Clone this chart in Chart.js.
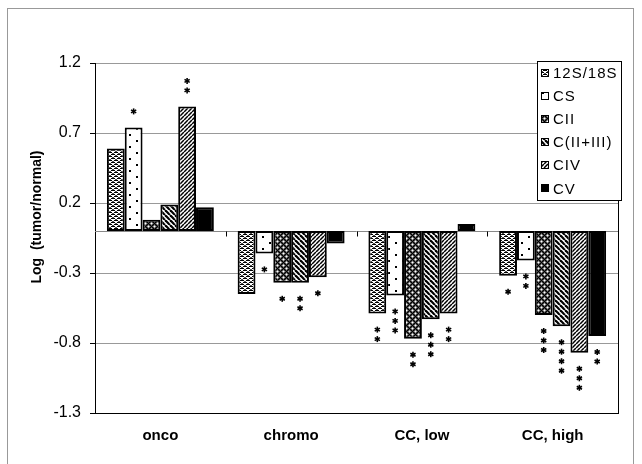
<!DOCTYPE html>
<html>
<head>
<meta charset="utf-8">
<script src="https://cdn.jsdelivr.net/npm/chart.js@4.4.0/dist/chart.umd.min.js"></script>
<style>
  html, body { margin: 0; padding: 0; background: #fff; }
  #wrap { width: 642px; height: 464px; }
</style>
</head>
<body>
<div id="wrap"><canvas id="grafico" width="642" height="464"></canvas></div>
<script>
// dados
const categorias = ['onco', 'chromo', 'CC, low', 'CC, high'];
const nomesSeries = ['12S/18S', 'CS', 'CII', 'C(II+III)', 'CIV', 'CV'];

const v12S18S = [0.59, -0.45, -0.59, -0.32];
const vCS     = [0.74, -0.16, -0.46, -0.21];
const vCII    = [0.08, -0.37, -0.77, -0.60];
const vCII_III = [0.19, -0.37, -0.63, -0.68];
const vCIV    = [0.89, -0.33, -0.59, -0.87];
const vCV     = [0.17, -0.09, 0.05, -0.75];

// número de asteriscos (significância) por barra
const sig12S18S = [0, 0, 2, 1];
const sigCS     = [1, 1, 3, 2];
const sigCII    = [0, 1, 2, 3];
const sigCII_III = [0, 2, 3, 4];
const sigCIV    = [2, 1, 2, 3];
const sigCV     = [0, 0, 0, 2];

const yTicks = [-1.3, -0.8, -0.3, 0.2, 0.7, 1.2];

const FONTE = '"Liberation Sans", Arial, sans-serif';

function tile(w, h, desenha) {
    const c = document.createElement('canvas');
    c.width = w; c.height = h;
    const g = c.getContext('2d');
    g.fillStyle = '#fff';
    g.fillRect(0, 0, w, h);
    desenha(g, w, h);
    return document.getElementById('grafico').getContext('2d').createPattern(c, 'repeat');
}

function padroes() {
    const weave = tile(6, 4, g => {
        g.fillStyle = '#000';
        g.fillRect(0, 0, 4, 1);
        g.fillRect(3, 2, 3, 1);
        g.fillRect(0, 2, 1, 1);
        g.fillStyle = '#555';
        g.fillRect(4, 1, 2, 1);
        g.fillRect(1, 3, 2, 1);
    });
    const pontos = tile(14, 12, g => {
        g.fillStyle = '#000';
        g.fillRect(3, 2, 2, 2);
        g.fillRect(10, 8, 2, 2);
    });
    const escuro = tile(6, 6, g => {
        g.fillStyle = '#000';
        g.fillRect(0, 0, 6, 6);
        g.fillStyle = '#444';
        for (let y = 0; y < 6; y++)
            for (let x = 0; x < 6; x++)
                if ((x + y) % 2 === 0) g.fillRect(x, y, 1, 1);
        g.fillStyle = '#aaa';
        [[1, 1], [4, 4]].forEach(p => {
            g.fillRect(p[0] - 1, p[1], 3, 1);
            g.fillRect(p[0], p[1] - 1, 1, 3);
        });
        g.fillStyle = '#fff';
        g.fillRect(1, 1, 1, 1);
        g.fillRect(4, 4, 1, 1);
    });
    const barraInv = tile(5, 5, (g, w, h) => {
        g.strokeStyle = '#000';
        g.lineWidth = 2.2;
        for (let k = -w; k <= w; k += w) {
            g.beginPath();
            g.moveTo(k, 0);
            g.lineTo(k + w, h);
            g.stroke();
        }
    });
    const barra = tile(4, 4, (g, w, h) => {
        g.strokeStyle = '#000';
        g.lineWidth = 1.5;
        for (let k = -w; k <= w; k += w) {
            g.beginPath();
            g.moveTo(k, h);
            g.lineTo(k + w, 0);
            g.stroke();
        }
    });
    return [weave, pontos, escuro, barraInv, barra, '#000'];
}

const fills = padroes();
const valores = [v12S18S, vCS, vCII, vCII_III, vCIV, vCV];
const sigs = [sig12S18S, sigCS, sigCII, sigCII_III, sigCIV, sigCV];

function asterisco(ctx, x, y) {
    ctx.save();
    ctx.strokeStyle = '#000';
    ctx.lineWidth = 1.6;
    const r = 3;
    [90, 30, 150].forEach(a => {
        const rad = a * Math.PI / 180;
        ctx.beginPath();
        ctx.moveTo(x - r * Math.cos(rad), y - r * Math.sin(rad));
        ctx.lineTo(x + r * Math.cos(rad), y + r * Math.sin(rad));
        ctx.stroke();
    });
    ctx.restore();
}

const decoracao = {
    id: 'decoracao',
    beforeDraw(chart) {
        const ctx = chart.ctx;
        ctx.save();
        ctx.fillStyle = '#fff';
        ctx.fillRect(0, 0, chart.width, chart.height);
        ctx.strokeStyle = '#999';
        ctx.lineWidth = 1;
        ctx.strokeRect(7.5, 8.5, 626, 470);
        ctx.restore();
    },
    beforeDatasetsDraw(chart) {
        const ctx = chart.ctx;
        const area = chart.chartArea;
        const y0 = Math.round(chart.scales.y.getPixelForValue(0)) + 0.5;
        ctx.save();
        ctx.strokeStyle = '#888';
        ctx.lineWidth = 1;
        ctx.beginPath();
        ctx.moveTo(area.left, y0);
        ctx.lineTo(area.right, y0);
        ctx.stroke();
        // marcas entre categorias no eixo zero
        ctx.strokeStyle = '#000';
        const largura = (area.right - area.left) / categorias.length;
        for (let k = 1; k < categorias.length; k++) {
            const x = Math.round(area.left + k * largura) + 0.5;
            ctx.beginPath();
            ctx.moveTo(x, y0);
            ctx.lineTo(x, y0 + 5);
            ctx.stroke();
        }
        ctx.restore();
    },
    afterDatasetsDraw(chart) {
        const ctx = chart.ctx;
        const area = chart.chartArea;
        ctx.save();
        // borda direita da área do gráfico
        ctx.strokeStyle = '#000';
        ctx.lineWidth = 1;
        ctx.beginPath();
        ctx.moveTo(Math.round(area.right) + 0.5, area.top);
        ctx.lineTo(Math.round(area.right) + 0.5, area.bottom);
        ctx.stroke();

        // asteriscos
        sigs.forEach((lista, i) => {
            const meta = chart.getDatasetMeta(i);
            meta.data.forEach((bar, j) => {
                const dir = valores[i][j] >= 0 ? -1 : 1;
                for (let k = 0; k < lista[j]; k++) {
                    asterisco(ctx, bar.x, bar.y + dir * (16 + k * 9.5));
                }
            });
        });

        // título do eixo y
        ctx.fillStyle = '#000';
        ctx.font = 'bold 14px ' + FONTE;
        ctx.textAlign = 'center';
        ctx.textBaseline = 'middle';
        ctx.translate(37, 217);
        ctx.rotate(-Math.PI / 2);
        ctx.fillText('Log  (tumor/normal)', 0, 0);
        ctx.restore();

        // legenda
        ctx.save();
        const lx = 537, ly = 61, lw = 84, lh = 139;
        ctx.fillStyle = '#fff';
        ctx.fillRect(lx, ly, lw, lh);
        ctx.strokeStyle = '#000';
        ctx.lineWidth = 1;
        ctx.strokeRect(lx + 0.5, ly + 0.5, lw, lh);
        ctx.font = '15px ' + FONTE;
        ctx.letterSpacing = '1px';
        ctx.textBaseline = 'middle';
        ctx.textAlign = 'left';
        const passo = lh / nomesSeries.length;
        nomesSeries.forEach((nome, i) => {
            const cy = ly + passo / 2 + i * passo;
            ctx.fillStyle = fills[i];
            ctx.fillRect(541, Math.round(cy) - 4, 8, 8);
            ctx.strokeStyle = '#000';
            ctx.strokeRect(541.5, Math.round(cy) - 3.5, 7, 7);
            ctx.fillStyle = '#000';
            ctx.fillText(nome, 553, cy + 1);
        });
        ctx.restore();
    }
};

const ctx = document.getElementById('grafico').getContext('2d');

new Chart(ctx, {
    type: 'bar',
    data: {
        labels: categorias,
        datasets: nomesSeries.map((nome, i) => ({
            label: nome,
            data: valores[i],
            backgroundColor: fills[i],
            borderColor: '#000',
            borderWidth: 2,
            borderSkipped: false,
            categoryPercentage: 0.818,
            barPercentage: 1
        }))
    },
    options: {
        responsive: false,
        animation: false,
        devicePixelRatio: 1,
        layout: { padding: { top: 63, right: 24, left: 0, bottom: 0 } },
        plugins: {
            legend: { display: false },
            tooltip: { enabled: false }
        },
        scales: {
            x: {
                grid: { display: false, drawTicks: false },
                border: { display: true, color: '#000', width: 1 },
                ticks: {
                    color: '#000',
                    font: { family: FONTE, size: 15, weight: 'bold' },
                    padding: 14,
                    maxRotation: 0
                },
                afterFit(scale) { scale.height = 51; }
            },
            y: {
                min: -1.3,
                max: 1.2,
                afterBuildTicks(scale) {
                    scale.ticks = yTicks.map(v => ({ value: v }));
                },
                grid: { color: '#999', lineWidth: 1, tickLength: 5, tickColor: '#000' },
                border: { display: true, color: '#000', width: 1 },
                ticks: {
                    color: '#000',
                    font: { family: FONTE, size: 16 },
                    padding: 9,
                    callback: v => v.toFixed(1)
                },
                afterFit(scale) { scale.width = 95; }
            }
        }
    },
    plugins: [decoracao]
});
</script>
</body>
</html>
